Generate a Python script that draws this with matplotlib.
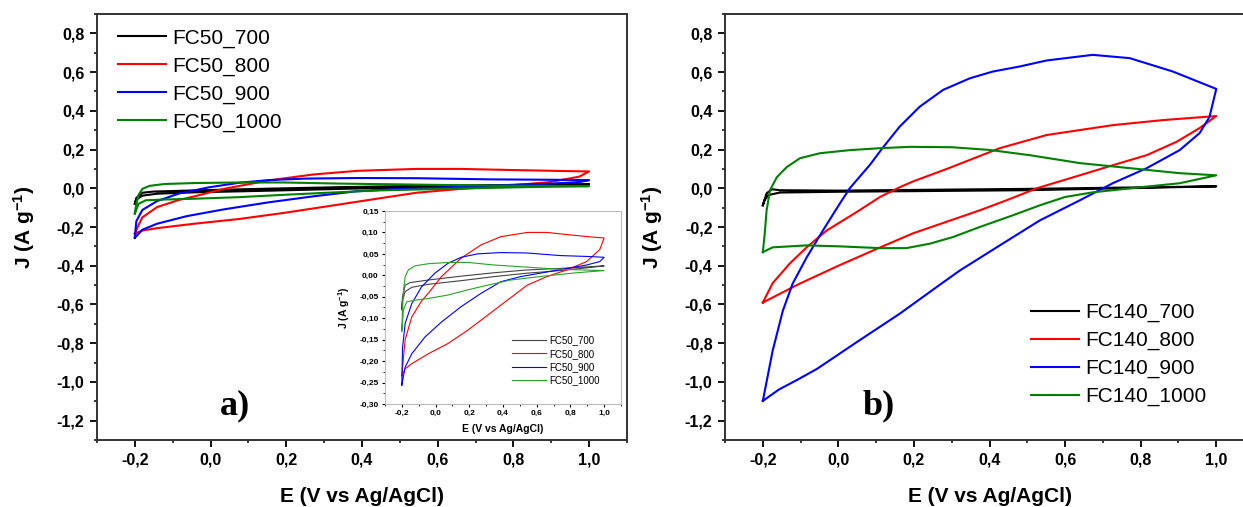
import matplotlib
matplotlib.use("Agg")
import matplotlib.pyplot as plt
from matplotlib.ticker import MultipleLocator, FuncFormatter

plt.rcParams['font.family'] = ['Liberation Sans', 'DejaVu Sans']
plt.rcParams['mathtext.default'] = 'regular'
plt.rcParams['axes.unicode_minus'] = False

# ---- FC50 series (panel a and inset), full CV loop: forward then reverse scan
fc50_700_E = [-0.2, -0.196, -0.18, -0.151, -0.043, 0.152, 0.348, 0.544, 0.739, 1.0,
              0.935, 0.739, 0.544, 0.348, 0.152, -0.043, -0.141, -0.18, -0.196, -0.2]
fc50_700_J = [-0.08, -0.05, -0.023, -0.017, -0.011, -0.002, 0.006, 0.0125, 0.016, 0.022,
              0.019, 0.011, 0.005, -0.003, -0.0125, -0.021, -0.028, -0.038, -0.058, -0.08]

fc50_800_E = [-0.2, -0.19, -0.18, -0.141, -0.083, -0.043, 0.035, 0.152, 0.27, 0.387, 0.544,
              0.661, 0.778, 0.935, 1.0, 0.974, 0.896, 0.778, 0.661, 0.544, 0.426, 0.309,
              0.191, 0.074, -0.043, -0.141, -0.18, -0.2]
fc50_800_J = [-0.234, -0.19, -0.15, -0.097, -0.06, -0.042, -0.003, 0.04, 0.071, 0.09, 0.10,
              0.10, 0.095, 0.089, 0.087, 0.06, 0.032, 0.0125, -0.003, -0.023, -0.058, -0.093,
              -0.128, -0.159, -0.183, -0.206, -0.218, -0.234]

fc50_900_E = [-0.2, -0.196, -0.18, -0.141, -0.083, -0.004, 0.074, 0.152, 0.25, 0.387, 0.544,
              0.739, 0.896, 1.0, 0.974, 0.896, 0.778, 0.622, 0.505, 0.387, 0.27, 0.152,
              0.035, -0.063, -0.141, -0.18, -0.2]
fc50_900_J = [-0.256, -0.17, -0.112, -0.066, -0.027, 0.005, 0.028, 0.042, 0.05, 0.053, 0.052,
              0.046, 0.044, 0.042, 0.032, 0.024, 0.016, 0.005, -0.003, -0.015, -0.042, -0.073,
              -0.109, -0.144, -0.183, -0.214, -0.256]

fc50_1000_E = [-0.2, -0.196, -0.19, -0.18, -0.161, -0.122, -0.043, 0.074, 0.191, 0.348, 0.544,
               0.739, 1.0, 0.837, 0.641, 0.446, 0.309, 0.191, 0.074, -0.043, -0.122, -0.171,
               -0.19, -0.2]
fc50_1000_J = [-0.13, -0.08, -0.034, -0.003, 0.0125, 0.022, 0.027, 0.03, 0.03, 0.024, 0.019,
               0.014, 0.011, 0.006, -0.002, -0.011, -0.023, -0.034, -0.046, -0.054, -0.058,
               -0.062, -0.08, -0.13]

# ---- FC140 series (panel b)
fc140_700_E = [-0.2, -0.19, -0.176, -0.155, 0.0, 0.5, 1.0,
               0.5, 0.0, -0.155, -0.185, -0.195, -0.2]
fc140_700_J = [-0.088, -0.026, -0.005, -0.01, -0.012, -0.003, 0.01,
               -0.01, -0.018, -0.022, -0.035, -0.06, -0.088]

fc140_800_E = [-0.2, -0.174, -0.129, -0.084, -0.031, 0.049, 0.11, 0.162, 0.197, 0.287, 0.427,
               0.551, 0.726, 0.858, 1.0, 0.956, 0.895, 0.816, 0.726, 0.639, 0.525, 0.445,
               0.374, 0.197, 0.105, 0.0, -0.105, -0.2]
fc140_800_J = [-0.59, -0.49, -0.389, -0.305, -0.218, -0.122, -0.045, 0.005, 0.035, 0.1, 0.207,
               0.275, 0.326, 0.352, 0.373, 0.311, 0.24, 0.171, 0.119, 0.067, 0.0, -0.062,
               -0.114, -0.233, -0.31, -0.40, -0.495, -0.59]

fc140_900_E = [-0.2, -0.174, -0.147, -0.121, -0.084, -0.041, 0.004, 0.03, 0.083, 0.118, 0.162,
               0.215, 0.277, 0.348, 0.409, 0.48, 0.551, 0.673, 0.771, 0.885, 1.0,
               0.982, 0.956, 0.903, 0.816, 0.726, 0.639, 0.533, 0.445, 0.365, 0.321, 0.26,
               0.162, 0.052, -0.057, -0.105, -0.158, -0.2]
fc140_900_J = [-1.098, -0.839, -0.632, -0.492, -0.357, -0.218, -0.078, 0.0, 0.12, 0.211, 0.318,
               0.421, 0.508, 0.568, 0.603, 0.629, 0.66, 0.689, 0.672, 0.603, 0.513,
               0.368, 0.285, 0.197, 0.104, 0.026, -0.062, -0.166, -0.273, -0.371, -0.425,
               -0.51, -0.648, -0.79, -0.933, -0.985, -1.04, -1.098]

fc140_1000_E = [-0.2, -0.195, -0.19, -0.181, -0.163, -0.137, -0.102, -0.049, 0.03, 0.11, 0.19,
                0.3, 0.4, 0.506, 0.639, 0.771, 0.903, 1.0, 0.903, 0.797, 0.673, 0.6, 0.533,
                0.461, 0.374, 0.303, 0.242, 0.18, 0.11, 0.004, -0.084, -0.174, -0.2]
fc140_1000_J = [-0.33, -0.235, -0.114, -0.01, 0.057, 0.109, 0.155, 0.181, 0.197, 0.207, 0.214,
                0.212, 0.198, 0.171, 0.13, 0.104, 0.078, 0.067, 0.026, 0.005, -0.021, -0.045,
                -0.088, -0.14, -0.2, -0.252, -0.286, -0.309, -0.309, -0.30, -0.295, -0.305,
                -0.33]

labels_a = ['FC50_700', 'FC50_800', 'FC50_900', 'FC50_1000']
labels_b = ['FC140_700', 'FC140_800', 'FC140_900', 'FC140_1000']
colors = ['black', '#ff0000', '#0000ff', '#008000']

series_a = [(fc50_700_E, fc50_700_J), (fc50_800_E, fc50_800_J),
            (fc50_900_E, fc50_900_J), (fc50_1000_E, fc50_1000_J)]
series_b = [(fc140_700_E, fc140_700_J), (fc140_800_E, fc140_800_J),
            (fc140_900_E, fc140_900_J), (fc140_1000_E, fc140_1000_J)]


def comma_fmt(decimals):
    def f(v, pos):
        if abs(v) < 1e-9:
            v = 0.0
        return f"{v:.{decimals}f}".replace('.', ',')
    return FuncFormatter(f)


def style_main(ax):
    ax.set_xlim(-0.3, 1.1)
    ax.set_ylim(-1.3, 0.9)
    ax.set_xticks([-0.2, 0.0, 0.2, 0.4, 0.6, 0.8, 1.0])
    ax.set_yticks([-1.2, -1.0, -0.8, -0.6, -0.4, -0.2, 0.0, 0.2, 0.4, 0.6, 0.8])
    ax.xaxis.set_minor_locator(MultipleLocator(0.1))
    ax.yaxis.set_minor_locator(MultipleLocator(0.1))
    ax.xaxis.set_major_formatter(comma_fmt(1))
    ax.yaxis.set_major_formatter(comma_fmt(1))
    ax.tick_params(which='major', direction='out', length=5, width=1.3, pad=4)
    ax.tick_params(which='minor', direction='out', length=2.5, width=1.1)
    for lab in ax.get_xticklabels() + ax.get_yticklabels():
        lab.set_fontweight('bold')
        lab.set_fontsize(11.5)
    for sp in ax.spines.values():
        sp.set_linewidth(1.4)
        sp.set_color('#333333')
    ax.set_xlabel('E (V vs Ag/AgCl)', fontsize=15, fontweight='bold', labelpad=14)
    ax.set_ylabel('J (A g$^{-1}$)', fontsize=15, fontweight='bold', labelpad=14)


fig = plt.figure(figsize=(12.43, 5.07), dpi=100)

ax_a = fig.add_axes([0.078, 0.1321, 0.4264, 0.8403])
for (E, J), c, lab in zip(series_a, colors, labels_a):
    ax_a.plot(E, J, color=c, lw=1.5, label=lab)
style_main(ax_a)
ax_a.legend(loc='upper left', bbox_to_anchor=(0.02, 0.99), frameon=False, fontsize=15,
            handlelength=2.3, handletextpad=0.3, labelspacing=0.42, borderpad=0)
ax_a.text(0.26, 0.08, 'a)', transform=ax_a.transAxes, fontsize=26, fontweight='bold',
          family='Liberation Serif', ha='center', va='center')

ax_b = fig.add_axes([0.5833, 0.1321, 0.4256, 0.8403])
for (E, J), c, lab in zip(series_b, colors, labels_b):
    ax_b.plot(E, J, color=c, lw=1.5, label=lab)
style_main(ax_b)
ax_b.legend(loc='lower right', bbox_to_anchor=(0.93, 0.055), frameon=False, fontsize=15,
            handlelength=2.3, handletextpad=0.3, labelspacing=0.42, borderpad=0)
ax_b.text(0.29, 0.08, 'b)', transform=ax_b.transAxes, fontsize=26, fontweight='bold',
          family='Liberation Serif', ha='center', va='center')

# inset in panel a
ax_in = fig.add_axes([0.3097, 0.2032, 0.1899, 0.3807])
inset_colors = ['#444444', '#ff0000', '#0000ff', '#2ca02c']
for (E, J), c, lab in zip(series_a, inset_colors, labels_a):
    ax_in.plot(E, J, color=c, lw=0.8, label=lab)
ax_in.set_xlim(-0.3, 1.1)
ax_in.set_ylim(-0.30, 0.15)
ax_in.set_xticks([-0.2, 0.0, 0.2, 0.4, 0.6, 0.8, 1.0])
ax_in.set_yticks([-0.30, -0.25, -0.20, -0.15, -0.10, -0.05, 0.0, 0.05, 0.10, 0.15])
ax_in.xaxis.set_minor_locator(MultipleLocator(0.1))
ax_in.yaxis.set_minor_locator(MultipleLocator(0.025))
ax_in.xaxis.set_major_formatter(comma_fmt(1))
ax_in.yaxis.set_major_formatter(comma_fmt(2))
ax_in.tick_params(which='major', direction='out', length=2.5, width=0.8, pad=2, labelsize=6)
ax_in.tick_params(which='minor', direction='out', length=1.3, width=0.6)
for lab in ax_in.get_xticklabels() + ax_in.get_yticklabels():
    lab.set_fontweight('bold')
for sp in ax_in.spines.values():
    sp.set_linewidth(0.8)
    sp.set_color('#bbbbbb')
ax_in.set_xlabel('E (V vs Ag/AgCl)', fontsize=7.5, fontweight='bold', labelpad=5)
ax_in.set_ylabel('J (A g$^{-1}$)', fontsize=7.5, fontweight='bold', labelpad=5)
ax_in.legend(loc='lower right', bbox_to_anchor=(0.93, 0.07), frameon=False, fontsize=7,
             handlelength=3.5, handletextpad=0.3, labelspacing=0.35, borderpad=0)

fig.savefig('out.png', dpi=100, facecolor='white')
